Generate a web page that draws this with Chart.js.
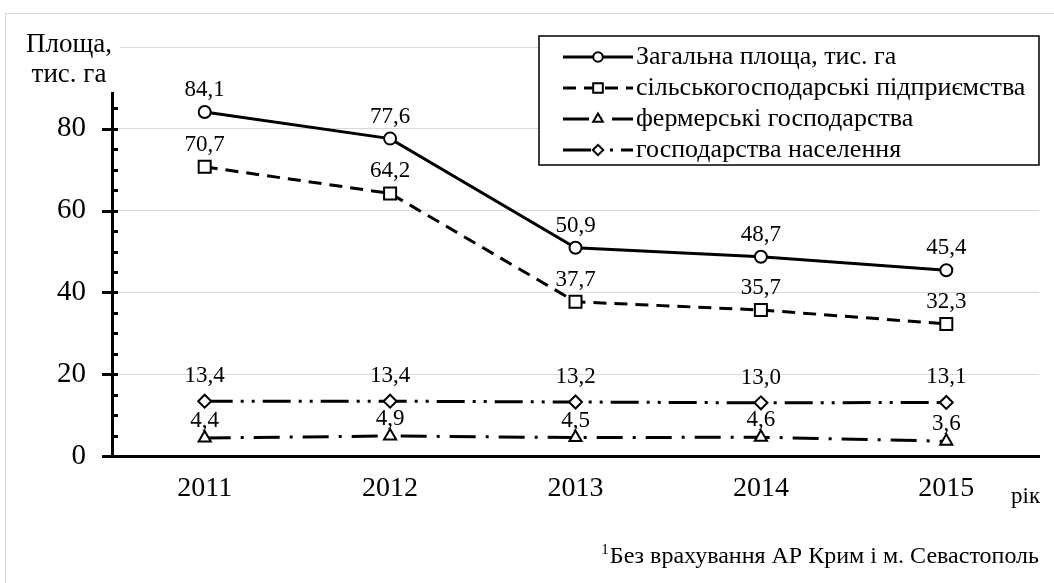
<!DOCTYPE html>
<html>
<head>
<meta charset="utf-8">
<script src="https://cdn.jsdelivr.net/npm/chart.js@4"></script>
<style>
  html, body { margin: 0; padding: 0; background: #fff; }
  #wrap { position: relative; width: 1054px; height: 583px; overflow: hidden; }
  #frame { position: absolute; left: 5px; top: 13px; width: 1100px; height: 700px; border: 1px solid #d9d9d9; }
  canvas { position: absolute; left: 0; top: 0; }
</style>
</head>
<body>
<div id="wrap">
  <div id="frame"></div>
  <canvas id="areaChart" width="1054" height="583"></canvas>
</div>
<script>
const years = ["2011", "2012", "2013", "2014", "2015"];
const totalArea = [84.1, 77.6, 50.9, 48.7, 45.4];
const agriEnterprises = [70.7, 64.2, 37.7, 35.7, 32.3];
const farms = [4.4, 4.9, 4.5, 4.6, 3.6];
const households = [13.4, 13.4, 13.2, 13.0, 13.1];
const seriesNames = [
  "Загальна площа, тис. га",
  "сільськогосподарські підприємства",
  "фермерські господарства",
  "господарства населення",
];
const yMax = 100;
const yStep = 20;
const yMinorStep = 5;

const serif = "'Liberation Serif', 'DejaVu Serif', serif";

function makeSet(label, data, style, radius, dash, labelGap) {
  return {
    label: label,
    data: data,
    borderColor: "#000",
    borderWidth: 3,
    borderDash: dash,
    pointStyle: style,
    pointRadius: radius,
    pointBorderWidth: 2,
    pointBackgroundColor: "#fff",
    pointBorderColor: "#000",
    tension: 0,
    fill: false,
    labelGap: labelGap,
  };
}

const datasets = [
  makeSet(seriesNames[0], totalArea, "circle", 6, [], 22),
  makeSet(seriesNames[1], agriEnterprises, "rect", 8.5, [13, 8], 22),
  makeSet(seriesNames[2], farms, "triangle", 7, [26, 10, 3, 10], 17),
  makeSet(seriesNames[3], households, "rectRot", 6.5, [28, 8, 3, 8, 3, 8], 25),
];

// value labels above each point, decimal comma
const valueLabels = {
  id: "valueLabels",
  afterDatasetsDraw(chart) {
    const ctx = chart.ctx;
    ctx.save();
    ctx.font = "23px " + serif;
    ctx.fillStyle = "#000";
    ctx.textAlign = "center";
    ctx.textBaseline = "middle";
    chart.data.datasets.forEach((ds, i) => {
      chart.getDatasetMeta(i).data.forEach((pt, j) => {
        ctx.fillText(ds.data[j].toFixed(1).replace(".", ","), pt.x, pt.y - ds.labelGap);
      });
    });
    ctx.restore();
  },
};

// axis ticks, title, legend, footnote
const decorations = {
  id: "decorations",
  afterDraw(chart) {
    const ctx = chart.ctx;
    const y = chart.scales.y;
    const left = chart.chartArea.left;
    ctx.save();

    // major ticks cross the axis, minor ticks inside
    ctx.strokeStyle = "#000";
    ctx.lineWidth = 3;
    for (let v = 0; v <= yMax; v += yMinorStep) {
      const py = Math.round(y.getPixelForValue(v)) + 0.5;
      ctx.beginPath();
      if (v % yStep === 0) {
        ctx.moveTo(left - 10, py);
        ctx.lineTo(left + 6, py);
      } else {
        ctx.moveTo(left, py);
        ctx.lineTo(left + 6, py);
      }
      ctx.stroke();
    }

    // axis title with white box over the top of the axis
    ctx.fillStyle = "#fff";
    ctx.fillRect(18, 28, left + 8 - 18, 64);
    ctx.fillStyle = "#000";
    ctx.font = "27px " + serif;
    ctx.textAlign = "center";
    ctx.textBaseline = "middle";
    ctx.fillText("Площа,", 69, 45);
    ctx.fillText("тис. га", 69, 75);

    // x axis unit
    ctx.font = "23px " + serif;
    ctx.textAlign = "left";
    ctx.fillText("рік", 1011, 497);

    // legend
    const lx = 539, ly = 36, lw = 500, lh = 129;
    ctx.fillStyle = "#fff";
    ctx.fillRect(lx, ly, lw, lh);
    ctx.strokeStyle = "#000";
    ctx.lineWidth = 1.5;
    ctx.strokeRect(lx, ly, lw, lh);
    ctx.font = "26px " + serif;
    ctx.textAlign = "left";
    ctx.textBaseline = "middle";
    chart.data.datasets.forEach((ds, i) => {
      const ry = 57 + i * 31;
      ctx.save();
      ctx.strokeStyle = "#000";
      ctx.lineWidth = 3;
      ctx.setLineDash(ds.borderDash);
      ctx.beginPath();
      ctx.moveTo(563, ry);
      ctx.lineTo(633, ry);
      ctx.stroke();
      ctx.restore();
      ctx.strokeStyle = "#000";
      ctx.lineWidth = 2;
      ctx.fillStyle = "#fff";
      Chart.helpers.drawPoint(ctx, {
        pointStyle: ds.pointStyle,
        radius: ds.pointRadius * 0.8,
        borderWidth: 2,
        rotation: 0,
      }, 598, ry);
      ctx.fillStyle = "#000";
      ctx.fillText(ds.label, 636, ry);
    });

    // footnote
    ctx.textAlign = "right";
    ctx.textBaseline = "alphabetic";
    ctx.font = "24px " + serif;
    const note = "Без врахування АР Крим і м. Севастополь";
    const nw = ctx.measureText(note).width;
    ctx.fillText(note, 1039, 563);
    ctx.font = "15px " + serif;
    ctx.fillText("1", 1039 - nw - 1, 554);

    ctx.restore();
  },
};

new Chart(document.getElementById("areaChart"), {
  type: "line",
  data: { labels: years, datasets: datasets },
  options: {
    responsive: false,
    animation: false,
    layout: { padding: { left: 5, top: 47, right: 15, bottom: 0 } },
    plugins: {
      legend: { display: false },
      tooltip: { enabled: false },
    },
    scales: {
      x: {
        offset: true,
        grid: { display: false, drawTicks: false },
        border: { display: true, color: "#000", width: 3 },
        ticks: {
          color: "#000",
          font: { family: serif, size: 28 },
          padding: 16,
          maxRotation: 0,
        },
        afterFit: (s) => { s.height = 127; },
      },
      y: {
        min: 0,
        max: yMax,
        grid: { color: "#d9d9d9", lineWidth: 1, drawTicks: false },
        border: { display: true, color: "#000", width: 3 },
        ticks: {
          stepSize: yStep,
          color: "#000",
          font: { family: serif, size: 29 },
          padding: 26,
          callback: (v) => (v === yMax ? "" : v),
        },
        afterFit: (s) => { s.width = 107; },
      },
    },
  },
  plugins: [valueLabels, decorations],
});
</script>
</body>
</html>
